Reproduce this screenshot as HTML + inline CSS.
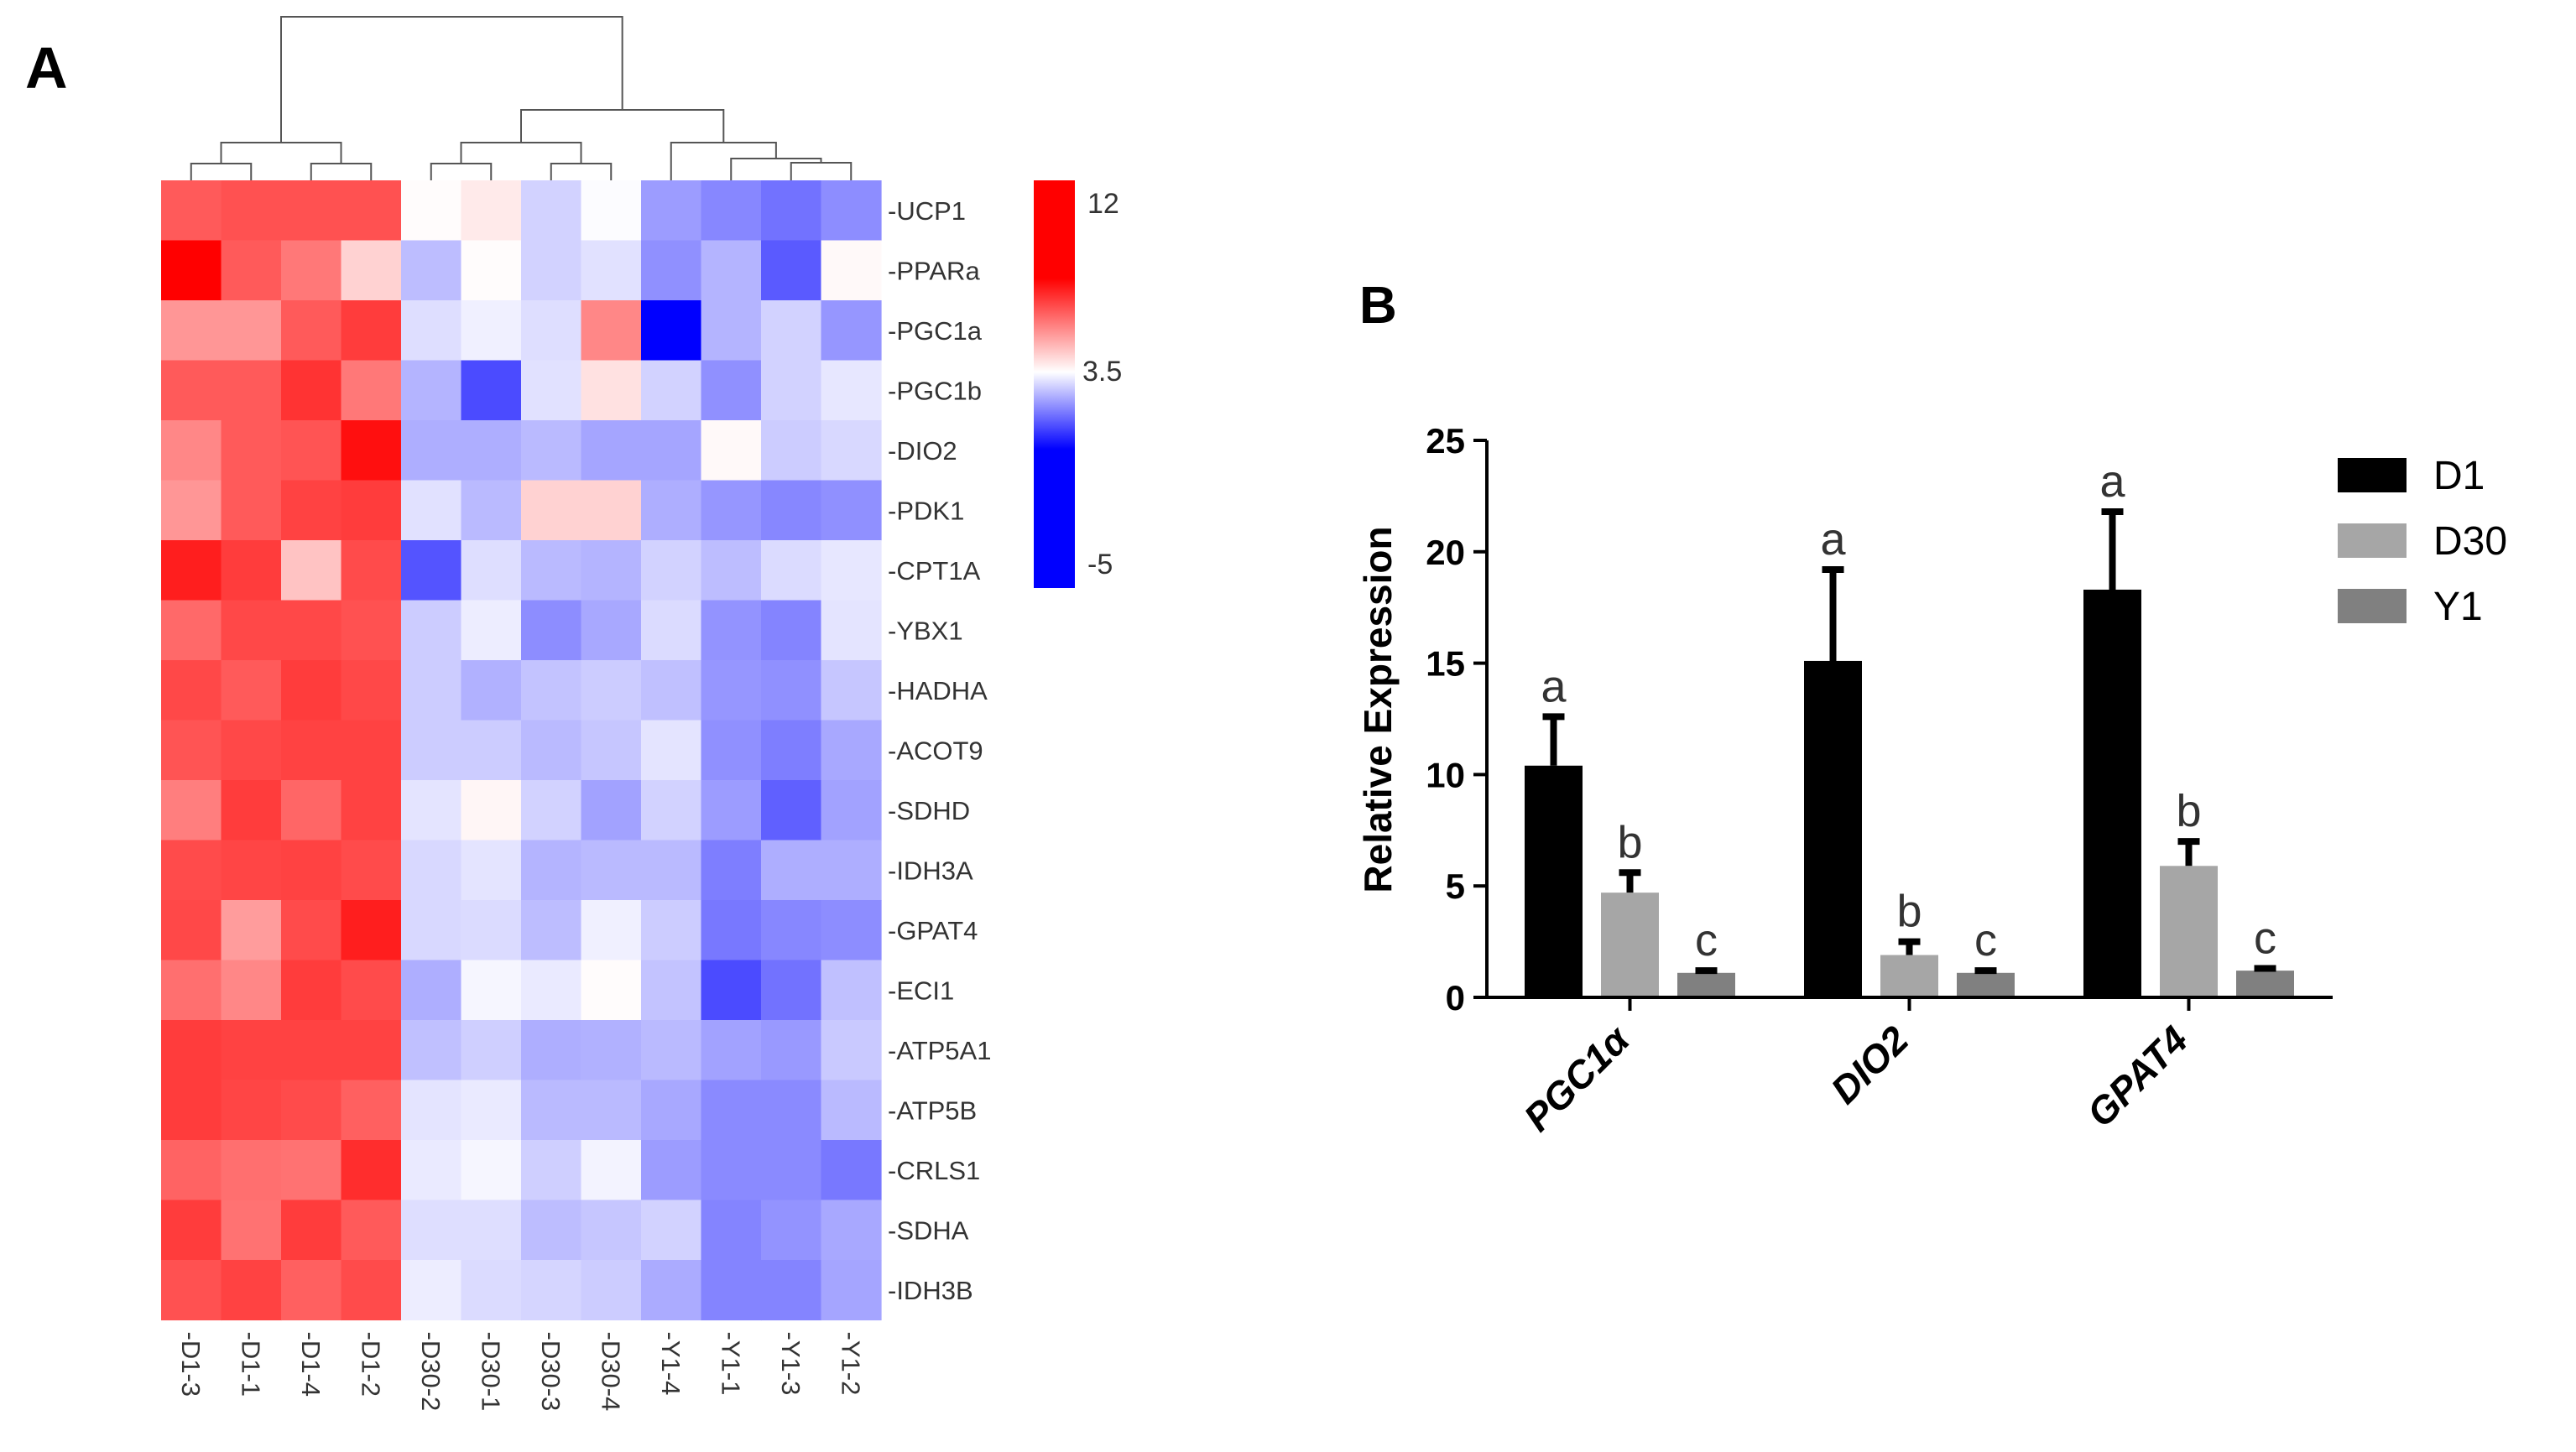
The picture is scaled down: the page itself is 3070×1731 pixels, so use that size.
<!DOCTYPE html>
<html><head><meta charset="utf-8"><style>
html,body{margin:0;padding:0;background:#fff;}
svg{display:block;font-family:"Liberation Sans",sans-serif;}
</style></head><body>
<svg id="fig" width="3070" height="1731" viewBox="0 0 3070 1731" xmlns="http://www.w3.org/2000/svg">
<text x="30" y="105" font-size="70" font-weight="bold" fill="#000">A</text>
<text x="1620" y="385" font-size="62" font-weight="bold" fill="#000">B</text>
<g id="heat"></g>
<g id="dendro"></g>
<defs><linearGradient id="cb" x1="0" y1="0" x2="0" y2="1">
<stop offset="0" stop-color="#ff0000"/><stop offset="0.24" stop-color="#ff0000"/><stop offset="0.47" stop-color="#ffffff"/><stop offset="0.66" stop-color="#0000ff"/><stop offset="1" stop-color="#0000ff"/></linearGradient></defs>
<rect x="1232" y="215" width="49" height="486" fill="url(#cb)"/>
<text x="1296" y="254" font-size="34" fill="#333">12</text>
<text x="1290" y="454" font-size="34" fill="#333">3.5</text>
<text x="1296" y="684" font-size="34" fill="#333">-5</text>
<g id="bars"></g>
</svg>
<script>
const genes=["UCP1","PPARa","PGC1a","PGC1b","DIO2","PDK1","CPT1A","YBX1","HADHA","ACOT9","SDHD","IDH3A","GPAT4","ECI1","ATP5A1","ATP5B","CRLS1","SDHA","IDH3B"];
const samples=["D1-3","D1-1","D1-4","D1-2","D30-2","D30-1","D30-3","D30-4","Y1-4","Y1-1","Y1-3","Y1-2"];
const heatValues=[
[9,9.3,9.3,9.3,3.6,4.2,2.0,3.4,0.2,-0.5,-1.2,-0.3],
[12,9,8,5,1.3,3.6,2.0,2.5,-0.2,1.0,-2.0,3.7],
[7,7,9,10,2.4,3.0,2.4,7.5,-5,1.0,2.0,0],
[9,9,10.3,8,1.0,-2.5,2.5,4.5,2.0,-0.2,2.0,2.7],
[7.5,9,9.2,11.5,0.8,0.8,1.2,0.5,0.5,3.7,1.8,2.2],
[7,9,9.8,10,2.5,1.2,5,5,0.8,0,-0.5,-0.2],
[11,10,5.5,9.5,-2.2,2.4,1.2,1.0,2.0,1.3,2.3,2.7],
[8.5,9.6,9.6,9.3,1.8,2.9,-0.3,0.6,2.3,-0.1,-0.6,2.6],
[9.6,9.0,10,9.6,1.8,0.9,1.5,1.8,1.4,0,-0.2,1.6],
[9.2,9.6,9.8,9.8,1.8,1.8,1.2,1.6,2.6,-0.2,-0.8,0.6],
[7.8,10,8.6,9.8,2.6,3.8,2.0,0.4,2.0,0.2,-1.8,0.4],
[9.5,9.7,9.8,9.5,2.2,2.6,1.0,1.2,1.2,-0.8,0.8,0.8],
[9.6,6.8,9.5,11,2.2,2.3,1.3,3.0,1.8,-1,-0.5,-0.3],
[8.3,7.5,10,9.5,0.8,3.2,2.8,3.6,1.5,-2.5,-1.2,1.4],
[10,9.8,9.8,9.8,1.4,1.9,0.8,0.9,1.2,0.4,0.1,1.7],
[10,9.7,9.5,8.8,2.6,2.8,1.2,1.2,0.6,-0.4,-0.4,1.2],
[8.7,8.3,8.2,10.5,2.8,3.2,1.9,3.1,0.2,-0.4,-0.4,-1.0],
[10,8.2,10,9.0,2.4,2.4,1.3,1.6,2.0,-0.6,-0.1,0.6],
[9.3,9.8,8.8,9.5,2.9,2.3,2.1,1.8,0.7,-0.6,-0.6,0.5]];
const merges=[[0,1,195],[2,3,195],[12,13,170],[4,5,195],[6,7,195],[15,16,170],[10,11,194],[9,18,189],[8,19,170],[17,20,131],[14,21,20]];
const categories=["PGC1α","DIO2","GPAT4"];
const seriesNames=["D1","D30","Y1"];
const d1Vals=[10.4,15.1,18.3], d1Err=[2.2,4.1,3.5];
const d30Vals=[4.7,1.9,5.9], d30Err=[0.9,0.6,1.1];
const y1Vals=[1.1,1.1,1.2], y1Err=[0.1,0.1,0.1];
const sigLetters=[["a","a","a"],["b","b","b"],["c","c","c"]];
const yTicks=[0,5,10,15,20,25];

const NS="http://www.w3.org/2000/svg";
function mk(tag,attrs,parent){const e=document.createElementNS(NS,tag);for(const k in attrs)e.setAttribute(k,attrs[k]);parent.appendChild(e);return e;}
const hx0=192,hy0=215,cw=71.5,rh=71.5;
function colorOf(v){let r,g,b;if(v>=3.5){const t=Math.min(1,(v-3.5)/8.5);r=255;g=b=Math.round(255*(1-t));}else{const t=Math.min(1,(3.5-v)/8.5);r=g=Math.round(255*(1-t));b=255;}return `rgb(${r},${g},${b})`;}
const heat=document.getElementById('heat');
heatValues.forEach((row,i)=>{row.forEach((v,j)=>{
 const c=mk('rect',{x:hx0+j*cw,y:hy0+i*rh,width:cw+0.6,height:rh+0.6,fill:colorOf(v)},heat);
 
 
});});
genes.forEach((g,i)=>{
 const t=mk('text',{x:hx0+12*cw+8,y:hy0+i*rh+rh/2+11,'font-size':31,fill:'#333'},heat);t.textContent='-'+g;
 
 
});
samples.forEach((s,j)=>{
 const x=hx0+j*cw+cw/2-11, y=hy0+19*rh+14;
 const t=mk('text',{x:x,y:y,'font-size':31,fill:'#333',transform:`rotate(90 ${x} ${y})`},heat);t.textContent='-'+s;
 
 
});
const dend=document.getElementById('dendro');
const nodeX=samples.map((s,j)=>hx0+j*cw+cw/2), nodeY=samples.map(()=>hy0);
merges.forEach(([a,b,h],k)=>{
 const p=mk('path',{d:`M${nodeX[a]},${nodeY[a]}V${h}H${nodeX[b]}V${nodeY[b]}`,fill:'none',stroke:'#555','stroke-width':2},dend);
 
 
 nodeX.push((nodeX[a]+nodeX[b])/2);nodeY.push(h);
});
const bars=document.getElementById('bars');
const ax0=1772,ay0=1189,ayTop=525,axEnd=2780,ymax=25;
const yScale=v=>ay0-(v/ymax)*(ay0-ayTop);
const groupStart=1817,groupStep=333,barPitch=91,barW=69;
const colors=["#000000","#a6a6a6","#808080"];
const vals=[d1Vals,d30Vals,y1Vals], errs=[d1Err,d30Err,y1Err];
categories.forEach((c,gi)=>{
 vals.forEach((sv,si)=>{
  const x=groupStart+gi*groupStep+si*barPitch, v=sv[gi], e=errs[si][gi];
  const r=mk('rect',{x:x,y:yScale(v),width:barW,height:ay0-yScale(v),fill:colors[si]},bars);
  
  
  const cx=x+barW/2, ty=yScale(v+e);
  const eb=mk('path',{d:`M${cx},${yScale(v)}V${ty}M${cx-13},${ty}H${cx+13}`,stroke:'#000','stroke-width':8,fill:'none'},bars);
  
  
  const lt=mk('text',{x:cx,y:ty-18,'font-size':54,fill:'#333','text-anchor':'middle'},bars);lt.textContent=sigLetters[si][gi];
  
  
 });
 const tx=groupStart+gi*groupStep+barPitch+barW/2;
 const tk=mk('line',{x1:tx,y1:ay0,x2:tx,y2:ay0+16,stroke:'#000','stroke-width':4},bars);
 
 
 const lx=tx-22,ly=ay0+30;
 const cl=mk('text',{x:lx,y:ly,'font-size':46,'font-weight':'bold','font-style':'italic',fill:'#000','text-anchor':'end',transform:`rotate(-45 ${lx} ${ly})`,'dominant-baseline':'hanging'},bars);cl.textContent=c;
 
 
});
const axes=mk('path',{d:`M${ax0},${ayTop}V${ay0}H${axEnd}`,stroke:'#000','stroke-width':4,fill:'none'},bars);


yTicks.forEach(t=>{
 const y=yScale(t);
 const l=mk('line',{x1:ax0-16,y1:y,x2:ax0,y2:y,stroke:'#000','stroke-width':4},bars);
 
 
 const tt=mk('text',{x:ax0-26,y:y+15,'font-size':42,'font-weight':'bold','text-anchor':'end',fill:'#000'},bars);tt.textContent=t;
 
 
});
const yt=mk('text',{x:1658,y:846,'font-size':46,'font-weight':'bold','text-anchor':'middle',fill:'#000',transform:'rotate(-90 1658 846)'},bars);yt.textContent='Relative Expression';


seriesNames.forEach((s,i)=>{
 const y=546+i*78;
 const sw=mk('rect',{x:2786,y:y,width:82,height:41,fill:colors[i]},bars);
 
 
 const lt=mk('text',{x:2900,y:y+37,'font-size':48,fill:'#000'},bars);lt.textContent=s;
 
 
});
</script>
</body></html>
